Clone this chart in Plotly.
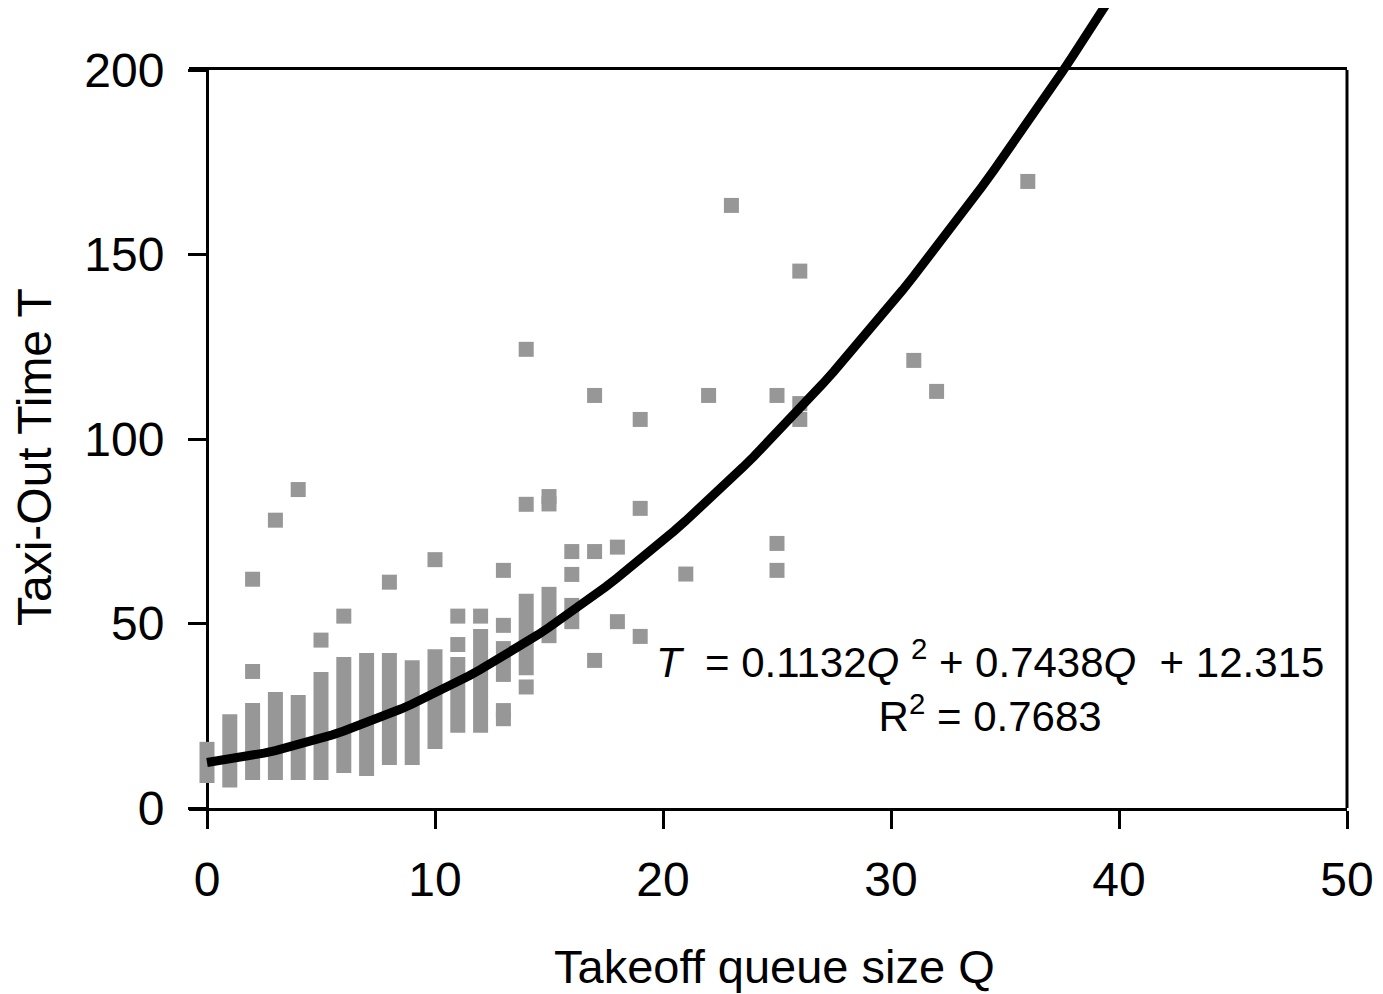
import plotly.graph_objects as go
import numpy as np

# ---------------- data ----------------
# dense columns of observations: queue size and min/max taxi-out time observed
col_q = [0, 1, 2, 3, 4, 5, 6, 7, 8, 9, 10, 11, 12, 13, 14, 15, 16]
col_t_min = [8.8, 7.6, 9.6, 9.6, 9.6, 9.6, 11.5, 10.7, 13.7, 13.7, 18.0, 22.4, 22.4, 36.2, 38.0, 46.7, 50.5]
col_t_max = [15.9, 23.4, 26.4, 29.4, 28.6, 34.8, 38.9, 40.0, 40.0, 38.0, 41.0, 38.9, 46.5, 43.2, 56.0, 57.9, 54.9]

# isolated observations
pt_q = [2, 2, 3, 4, 5, 6, 8, 10, 11, 11, 12, 13, 13, 13, 13, 14, 14, 14, 15, 15,
        16, 16, 17, 17, 17, 18, 18, 19, 19, 19, 21, 22, 23, 25, 25, 25, 26, 26, 26,
        31, 32, 36]
pt_t = [37, 62, 78, 86.3, 45.5, 52, 61.2, 67.3, 44.3, 52, 52, 64.4, 49.5, 26.4, 24.2,
        124.3, 82.3, 32.8, 84.4, 82.4, 69.5, 63.3, 111.8, 69.5, 40, 70.7, 50.5,
        105.3, 81.2, 46.5, 63.4, 111.8, 163.3, 111.8, 71.7, 64.4, 145.5, 109.6, 105.3,
        121.3, 112.9, 169.8]

# quadratic trend line shown on the chart
fit_a, fit_b, fit_c = 0.1132, 0.7438, 12.315
fit_r2 = 0.7683
fit_q_max = 40

x_ticks = [0, 10, 20, 30, 40, 50]
y_ticks = [0, 50, 100, 150, 200]
x_title = "Takeoff queue size Q"
y_title = "Taxi-Out Time T"

# ---------------- layout geometry ----------------
OFF = 8                        # page body margin
W, H = 1383 - OFF, 994 - OFF
ML, MR, MT, MB = 189 - OFF, 36, 0, 186
plot_w = W - ML - MR           # 1158
plot_h = H - MT - MB           # 800
axis_off = 18                  # px between x-domain start and Q=0
px_per_q = (plot_w - axis_off) / 50.0
inner_h = 738                  # px height of the framed plot area
px_per_t = inner_h / 200.0
y_top = inner_h / plot_h


def px(sx):
    return (sx - OFF - ML) / plot_w


def py(sy):
    return (MT + plot_h - (sy - OFF)) / plot_h


MARK = 15
GRAY = "#979797"
FONT = "Liberation Sans, Arial, sans-serif"

pad_t = (MARK / 2) / px_per_t
bar_w = MARK / px_per_q

fig = go.Figure()

# dense columns as floating bars
fig.add_trace(go.Bar(
    x=col_q,
    y=[hi - lo + 2 * pad_t for lo, hi in zip(col_t_min, col_t_max)],
    base=[lo - pad_t for lo in col_t_min],
    width=bar_w,
    marker=dict(color=GRAY, line=dict(width=0)),
    xaxis="x", yaxis="y", showlegend=False, hoverinfo="skip",
))

# isolated points
fig.add_trace(go.Scatter(
    x=pt_q, y=pt_t, mode="markers",
    marker=dict(symbol="square", size=MARK, color=GRAY, line=dict(width=0)),
    cliponaxis=False, xaxis="x", yaxis="y", showlegend=False,
))

# trend line (drawn on a taller hidden axis so it continues above the frame)
q_fit = np.arange(0, fit_q_max + 0.001, 0.5)
t_fit = np.polyval([fit_a, fit_b, fit_c], q_fit)
fig.add_trace(go.Scatter(
    x=q_fit, y=t_fit, mode="lines",
    line=dict(color="black", width=9),
    xaxis="x", yaxis="y2", showlegend=False,
))

fig.update_layout(
    template="none",
    width=W, height=H,
    margin=dict(l=ML, r=MR, t=MT, b=MB, pad=0, autoexpand=False),
    paper_bgcolor="white", plot_bgcolor="rgba(0,0,0,0)",
    barmode="overlay", showlegend=False,
    font=dict(family=FONT, color="black", size=48),
    xaxis=dict(
        domain=[0, 1], range=[-axis_off / px_per_q, 50], anchor="y", automargin=False,
        tickmode="array", tickvals=x_ticks, ticks="outside", ticklen=18, tickwidth=3,
        tickcolor="black",
        showline=True, linecolor="black", linewidth=3, mirror=True,
        showgrid=False, zeroline=False, layer="below traces",
        tickfont=dict(size=48, family=FONT, color="black"),
        ticklabelstandoff=9,
    ),
    yaxis=dict(
        domain=[0, y_top], range=[0, 200], anchor="free", position=axis_off / plot_w,
        automargin=False,
        tickmode="array", tickvals=y_ticks, ticks="outside", ticklen=18, tickwidth=3,
        tickcolor="black",
        showline=True, linecolor="black", linewidth=3,
        showgrid=False, zeroline=False, layer="below traces",
        tickfont=dict(size=48, family=FONT, color="black"),
        ticklabelstandoff=14,
    ),
    yaxis2=dict(
        domain=[0, 1], range=[0, 200 * plot_h / inner_h], anchor="x", visible=False,
        automargin=False, showgrid=False, zeroline=False,
    ),
    shapes=[dict(type="line", xref="paper", yref="paper", x0=1, x1=1, y0=0, y1=y_top,
                 line=dict(color="black", width=3), layer="below")],
    annotations=[
        dict(text=x_title, xref="paper", yref="paper",
             x=px(775), y=py(966),
             xanchor="center", yanchor="middle", showarrow=False,
             font=dict(size=47, family=FONT, color="black")),
        dict(text=y_title, xref="paper", yref="paper",
             x=px(34), y=py(457), textangle=-90,
             xanchor="center", yanchor="middle", showarrow=False,
             font=dict(size=48, family=FONT, color="black")),
        dict(text=("<i>T</i>\u00a0 = %.4f<i>Q</i> <sup>2</sup> + %.4f<i>Q</i>\u00a0 + %.3f<br>R<sup>2</sup> = %.4f"
                   % (fit_a, fit_b, fit_c, fit_r2)),
             xref="paper", yref="paper",
             x=px(990), y=py(686),
             xanchor="center", yanchor="middle", align="center", showarrow=False,
             font=dict(size=42, family=FONT, color="black")),
    ],
)

fig.write_html("out.html")
